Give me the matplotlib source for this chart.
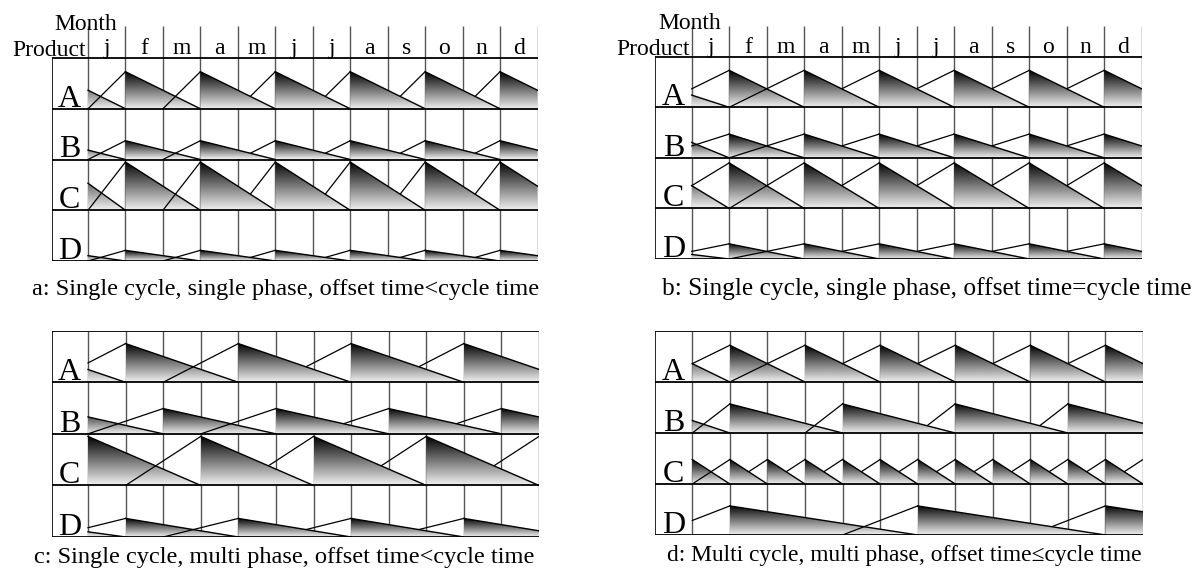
import numpy as np
import matplotlib.pyplot as plt
from matplotlib.patches import Polygon

plt.rcParams['font.family'] = ['Liberation Serif', 'DejaVu Serif']

W, H = 1200, 575

months = ['j', 'f', 'm', 'a', 'm', 'j', 'j', 'a', 's', 'o', 'n', 'd']
products = ['A', 'B', 'C', 'D']

# per panel and product:
#   peak   - stock right after a delivery (share of the row height)
#   init   - stock on 1 january (share of the peak)
#   cycle  - months one batch lasts
#   prod   - months of production before the delivery
#   refill - months where a batch arrives
a_peak = [0.73, 0.37, 0.95, 0.21]
a_init = [0.50, 0.50, 0.56, 0.50]
a_cycle = [2, 2, 2, 2]
a_prod = [1, 1, 1, 1]
a_refill = [[1, 3, 5, 7, 9, 11]] * 4

b_peak = [0.73, 0.47, 0.90, 0.30]
b_init = [0.33, 0.65, 0.50, 0.30]
b_cycle = [2, 2, 2, 2]
b_prod = [2, 2, 2, 2]
b_refill = [[1, 3, 5, 7, 9, 11]] * 4

c_peak = [0.75, 0.49, 0.95, 0.36]
c_init = [0.33, 0.67, 0.0, 0.28]
c_cycle = [3, 3, 3, 3]
c_prod = [2, 2, 2, 2]
c_refill = [[1, 4, 7, 10], [2, 5, 8, 11], [0, 3, 6, 9, 12], [1, 4, 7, 10]]

d_peak = [0.72, 0.57, 0.48, 0.57]
d_init = [0.50, 0.43, 0.0, 0.0]
d_cycle = [2, 3, 1, 5]
d_prod = [2, 1, 1, 2]
d_refill = [[1, 3, 5, 7, 9, 11], [1, 4, 7, 10],
            [0, 1, 2, 3, 4, 5, 6, 7, 8, 9, 10, 11, 12], [1, 6, 11]]

captions = ['a: Single cycle, single phase, offset time<cycle time',
            'b: Single cycle, single phase, offset time=cycle time',
            'c: Single cycle, multi phase, offset time<cycle time',
            'd: Multi cycle, multi phase, offset time\u2264cycle time']

grad = np.linspace(0.94, 0.0, 256).reshape(-1, 1)

fig = plt.figure(figsize=(W / 100, H / 100), dpi=100)


def draw_panel(box, peak, init, cycle, prod, refill, header):
    lab_l, grid_l, grid_r, head_t, rows_t, rows_b = box
    cw = (grid_r - grid_l) / 12
    rh = (rows_b - rows_t) / 4
    lw_m = (grid_l - lab_l) / cw
    top = head_t if header else rows_t
    htop = (rows_t - top) / rh
    ax = fig.add_axes([lab_l / W, 1 - rows_b / H, (grid_r - lab_l) / W, (rows_b - top) / H])
    ax.axis('off')

    # grid
    for t in range(13):
        ax.plot([t, t], [-htop, 4], color='#555555', lw=1, zorder=1, solid_capstyle='butt')
    ax.plot([-lw_m, -lw_m], [0, 4], color='black', lw=1.2, zorder=5)
    for r in range(5):
        ax.plot([-lw_m, 12], [r, r], color='black', lw=1.3, zorder=5)

    if header:
        ax.text(-0.05, -0.55, 'Month', ha='center', va='baseline', fontsize=17)
        ax.text(-0.05, -0.03, 'Product', ha='right', va='baseline', fontsize=17)
        for k, m in enumerate(months):
            ax.text(k + 0.5, -0.07, m, ha='center', va='baseline', fontsize=17)

    for i in range(4):
        base = i + 1
        pk = peak[i]
        ax.text(-lw_m / 2, base - 0.04, products[i], ha='center', va='baseline', fontsize=23)

        teeth = []
        if init[i] > 0 and refill[i][0] > 0:
            teeth.append([(0, base), (0, base - init[i] * pk), (refill[i][0], base)])
        for r in refill[i]:
            if r >= 12:
                continue
            t1 = min(r + cycle[i], 12)
            left = pk * (1 - (t1 - r) / cycle[i])
            teeth.append([(r, base), (r, base - pk), (t1, base - left), (t1, base)])

        for pts in teeth:
            poly = Polygon(pts, closed=True, facecolor='none', edgecolor='none',
                           transform=ax.transData)
            ax.add_patch(poly)
            xs = [p[0] for p in pts]
            im = ax.imshow(grad, cmap='gray', vmin=0, vmax=1, origin='lower',
                           extent=(min(xs), max(xs), base, base - pk),
                           aspect='auto', zorder=3, interpolation='bilinear')
            im.set_clip_path(poly)
            ax.plot([pts[1][0], pts[2][0]], [pts[1][1], pts[2][1]],
                    color='black', lw=1, zorder=4)

        # production build-up lines (the first two drawn across the stock)
        for n, r in enumerate(refill[i]):
            t0, y0 = r - prod[i], base
            if t0 < 0:
                y0 = base - pk * (-t0) / prod[i]
                t0 = 0
            ax.plot([t0, r], [y0, base - pk], color='black', lw=0.9,
                    zorder=4 if n < 2 else 2)

    ax.set_xlim(-lw_m, 12)
    ax.set_ylim(4, -htop)
    return ax


draw_panel((51.5, 88, 537.5, 26, 58, 261), a_peak, a_init, a_cycle, a_prod, a_refill, True)
draw_panel((655, 691.7, 1141.7, 26, 56.7, 259), b_peak, b_init, b_cycle, b_prod, b_refill, True)
draw_panel((51.5, 88, 539, None, 330.7, 537), c_peak, c_init, c_cycle, c_prod, c_refill, False)
draw_panel((655, 692.3, 1143, None, 331, 535), d_peak, d_init, d_cycle, d_prod, d_refill, False)

fig.text(32 / W, 1 - 289 / H, captions[0], ha='left', va='center', fontsize=17.6)
fig.text(662 / W, 1 - 289 / H, captions[1], ha='left', va='center', fontsize=18.3)
fig.text(34 / W, 1 - 558 / H, captions[2], ha='left', va='center', fontsize=17.6)
fig.text(667 / W, 1 - 556 / H, captions[3], ha='left', va='center', fontsize=16.9)

fig.savefig('out.png', dpi=100)
